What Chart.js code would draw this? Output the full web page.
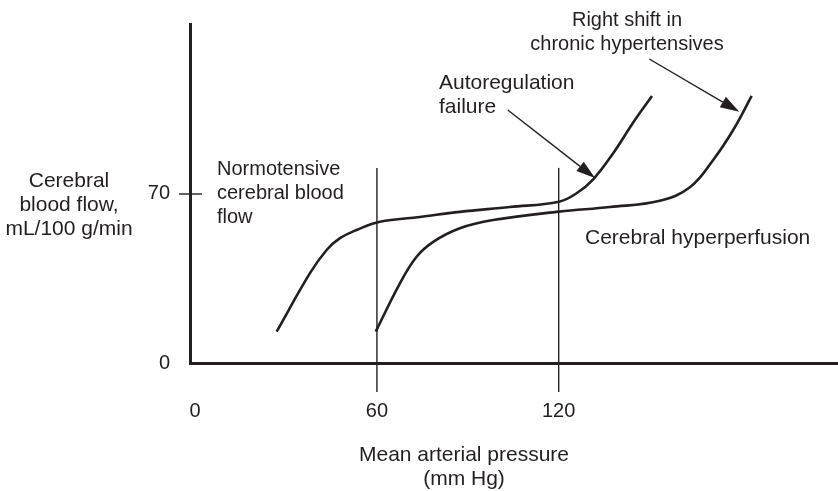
<!DOCTYPE html>
<html>
<head>
<meta charset="utf-8">
<script src="https://cdn.jsdelivr.net/npm/chart.js@4"></script>
<style>
  html, body { margin: 0; padding: 0; background: #fff; }
  #wrap { width: 838px; height: 491px; }
</style>
</head>
<body>
<div id="wrap"><canvas id="cbf"></canvas></div>
<script>
// values (x = mean arterial pressure, y = cerebral blood flow)
const normoX = [26.9, 37.9, 43.4, 47.8, 53.3, 61.0, 74.2, 87.4, 103.9, 120.1, 125.9, 131.4, 138.0, 144.5, 150.8];
const normoY = [13.0, 37.2, 46.8, 51.7, 55.1, 58.5, 60.5, 62.6, 64.6, 66.8, 70.3, 76.1, 86.9, 99.4, 110.6];
const hyperX = [59.6, 67.6, 73.1, 78.6, 87.4, 98.3, 120.1, 136.9, 153.4, 163.3, 171.0, 177.6, 183.7];
const hyperY = [13.0, 33.0, 44.0, 50.2, 55.8, 59.2, 62.7, 64.6, 67.2, 72.8, 84.1, 96.5, 110.6];
const markerX = [60, 120];          // vertical reference lines
const markerY = [-12, 80.8];        // from / to
const xTicks = [0, 60, 120];
const yTicks = [0, 70];

// arrows: [fromX, fromY, toX, toY] in data units
const arrows = [
    [103.2, 104.8, 132.0, 76.6],    // autoregulation failure
    [149.9, 125.9, 179.6, 104.1]    // right shift
];

const INK = "#231f20";
const FONT = "Liberation Sans, Arial, Helvetica, sans-serif";

function pts(xs, ys) {
    return xs.map((x, i) => ({ x: x, y: ys[i] }));
}

const markerSets = markerX.map((x) => ({
    data: markerY.map((y) => ({ x: x, y: y })),
    borderColor: INK,
    borderWidth: 1.4,
    pointRadius: 0,
    clip: false,
}));

// text + arrows + the tick that crosses the y axis
const annotate = {
    id: "annotate",
    afterDraw(chart) {
        const ctx = chart.ctx;
        const xs = chart.scales.x, ys = chart.scales.y;
        ctx.save();
        ctx.strokeStyle = INK;
        ctx.fillStyle = INK;

        // y tick at 70 crosses the axis
        const ty = ys.getPixelForValue(70);
        ctx.lineWidth = 1.4;
        ctx.beginPath();
        ctx.moveTo(chart.chartArea.left - 11, ty);
        ctx.lineTo(chart.chartArea.left + 12, ty);
        ctx.stroke();

        arrows.forEach((a) => {
            const x0 = xs.getPixelForValue(a[0]), y0 = ys.getPixelForValue(a[1]);
            const x1 = xs.getPixelForValue(a[2]), y1 = ys.getPixelForValue(a[3]);
            const ang = Math.atan2(y1 - y0, x1 - x0);
            const len = 19, half = 6;
            const bx = x1 - len * Math.cos(ang), by = y1 - len * Math.sin(ang);
            ctx.lineWidth = 1.4;
            ctx.beginPath();
            ctx.moveTo(x0, y0);
            ctx.lineTo(bx, by);
            ctx.stroke();
            ctx.beginPath();
            ctx.moveTo(x1, y1);
            ctx.lineTo(bx + half * Math.sin(ang), by - half * Math.cos(ang));
            ctx.lineTo(bx - half * Math.sin(ang), by + half * Math.cos(ang));
            ctx.closePath();
            ctx.fill();
        });

        ctx.textBaseline = "middle";
        const put = (lines, x, y0, align, step, size) => {
            ctx.font = size + "px " + FONT;
            ctx.textAlign = align;
            lines.forEach((t, i) => ctx.fillText(t, x, y0 + i * step));
        };
        put(["Right shift in", "chronic hypertensives"], 627, 20, "center", 24, 20);
        put(["Autoregulation", "failure"], 439, 83, "left", 24, 21);
        put(["Normotensive", "cerebral blood", "flow"], 217, 169, "left", 24, 20);
        put(["Cerebral hyperperfusion"], 585, 238, "left", 24, 21);
        put(["Cerebral", "blood flow,", "mL/100 g/min"], 69, 181, "center", 24, 21);
        put(["Mean arterial pressure", "(mm Hg)"], 464, 455, "center", 24, 21);
        ctx.restore();
    }
};

new Chart(document.getElementById("cbf"), {
    type: "line",
    data: {
        datasets: [
            {
                data: pts(normoX, normoY),
                borderColor: INK,
                borderWidth: 2.6,
                pointRadius: 0,
                tension: 0.4,
            },
            {
                data: pts(hyperX, hyperY),
                borderColor: INK,
                borderWidth: 2.6,
                pointRadius: 0,
                tension: 0.4,
            },
            ...markerSets
        ]
    },
    options: {
        responsive: true,
        maintainAspectRatio: false,
        animation: false,
        layout: { padding: { top: 24, right: 0, bottom: 0, left: 0 } },
        plugins: { legend: { display: false }, tooltip: { enabled: false } },
        scales: {
            x: {
                type: "linear",
                min: -1.7,
                max: 212.2,
                afterBuildTicks: (s) => { s.ticks = xTicks.map((v) => ({ value: v })); },
                afterFit: (s) => { s.height = 128; s.paddingLeft = 0; s.paddingRight = 0; },
                grid: { display: false, drawTicks: false },
                border: { color: INK, width: 3 },
                ticks: { color: INK, font: { family: FONT, size: 20 }, padding: 36, maxRotation: 0 },
            },
            y: {
                min: 0,
                max: 140.4,
                afterBuildTicks: (s) => { s.ticks = yTicks.map((v) => ({ value: v })); },
                afterFit: (s) => { s.width = 190; s.paddingTop = 0; s.paddingBottom = 0; },
                grid: { display: false, drawTicks: false },
                border: { color: INK, width: 3 },
                ticks: { color: INK, font: { family: FONT, size: 20 }, padding: 20 },
            }
        }
    },
    plugins: [annotate]
});
</script>
</body>
</html>
